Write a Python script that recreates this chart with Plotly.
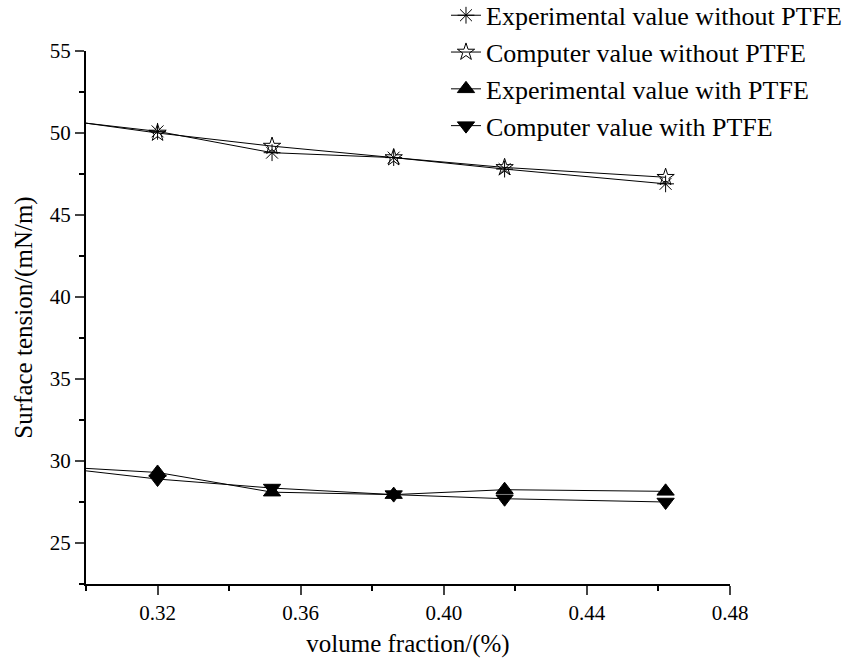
import plotly.graph_objects as go

x_vals = [0.30, 0.32, 0.352, 0.386, 0.417, 0.462]
exp_without = [50.6, 50.1, 48.8, 48.5, 47.8, 46.9]
comp_without = [50.6, 50.0, 49.2, 48.5, 47.9, 47.3]
exp_with = [29.55, 29.3, 28.1, 27.95, 28.25, 28.15]
comp_with = [29.4, 28.9, 28.35, 27.95, 27.7, 27.5]

names = ["Experimental value without PTFE", "Computer value without PTFE",
         "Experimental value with PTFE", "Computer value with PTFE"]
series = [exp_without, comp_without, exp_with, comp_with]
symbols = ["asterisk-open", "star-open", "triangle-up", "triangle-down"]
msizes = [14, 13, 15, 15]

fig = go.Figure()
for name, ys, sym, ms in zip(names, series, symbols, msizes):
    # leading segment from the axis to the first marked point (no marker)
    fig.add_trace(go.Scatter(
        x=x_vals[:2], y=ys[:2], mode="lines", showlegend=False,
        line=dict(color="black", width=1), hoverinfo="skip",
    ))
    fig.add_trace(go.Scatter(
        x=x_vals[1:], y=ys[1:], mode="lines+markers", name=name,
        line=dict(color="black", width=1),
        marker=dict(symbol=sym, size=ms, color="black", opacity=1,
                    line=dict(color="black", width=1)),
    ))

font_family = "Liberation Serif, Times New Roman, serif"
fig.update_layout(
    width=844, height=662,
    margin=dict(l=86, r=114, t=51, b=78, autoexpand=False),
    paper_bgcolor="white", plot_bgcolor="white",
    font=dict(family=font_family, color="black", size=21),
    showlegend=True,
    legend=dict(x=0.559, y=1.111, xanchor="left", yanchor="top",
                font=dict(size=26, family=font_family),
                tracegroupgap=0, bgcolor="rgba(0,0,0,0)"),
)
fig.update_xaxes(
    range=[0.30, 0.48], tickvals=[0.32, 0.36, 0.40, 0.44, 0.48],
    tickformat=".2f", ticks="outside", ticklen=9, tickwidth=2,
    showline=True, linecolor="black", linewidth=2, showgrid=False, zeroline=False,
    minor=dict(tickvals=[0.30, 0.34, 0.38, 0.42, 0.46], ticks="outside",
               ticklen=5, tickwidth=2, tickcolor="black", showgrid=False),
    tickfont=dict(size=21),
    title=dict(text="volume fraction/(%)", font=dict(size=25), standoff=10),
)
fig.update_yaxes(
    range=[22.5, 55], tickvals=[25, 30, 35, 40, 45, 50, 55],
    ticks="outside", ticklen=9, tickwidth=2,
    showline=True, linecolor="black", linewidth=2, showgrid=False, zeroline=False,
    minor=dict(tickvals=[22.5, 27.5, 32.5, 37.5, 42.5, 47.5, 52.5], ticks="outside",
               ticklen=5, tickwidth=2, tickcolor="black", showgrid=False),
    tickfont=dict(size=21),
    title=dict(text="Surface tension/(mN/m)", font=dict(size=25), standoff=10),
)

fig.write_html("out.html")
